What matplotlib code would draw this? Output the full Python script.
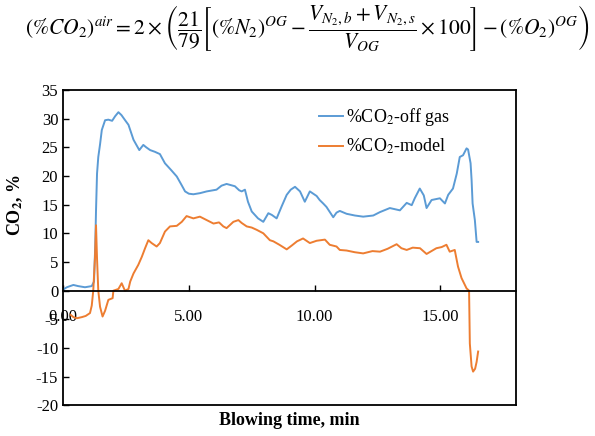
import matplotlib
matplotlib.use("Agg")
import matplotlib.pyplot as plt

# blowing time (min) and %CO2
offgas_t = [0.0, 0.15, 0.41, 0.6, 0.87, 1.14, 1.23, 1.28, 1.31, 1.35, 1.4, 1.47, 1.54, 1.67, 1.8,
            1.95, 2.07, 2.2, 2.32, 2.45, 2.6, 2.8, 3.03, 3.19, 3.3, 3.46, 3.65, 3.85, 4.05, 4.3,
            4.52, 4.7, 4.85, 5.0, 5.18, 5.45, 5.71, 6.1, 6.3, 6.5, 6.83, 7.0, 7.1, 7.23, 7.35,
            7.5, 7.75, 7.96, 8.16, 8.3, 8.49, 8.7, 8.89, 9.05, 9.22, 9.42, 9.61, 9.81, 10.08,
            10.2, 10.34, 10.47, 10.74, 10.87, 11.0, 11.27, 11.6, 11.93, 12.33, 12.6, 12.99,
            13.39, 13.66, 13.86, 13.98, 14.18, 14.34, 14.45, 14.65, 14.98, 15.18, 15.31, 15.5,
            15.65, 15.77, 15.9, 16.04, 16.1, 16.2, 16.24, 16.28, 16.37, 16.44, 16.5]
offgas_co2 = [0.2, 0.6, 1.0, 0.8, 0.6, 0.8, 1.6, 8.0, 14.0, 20.4, 23.3, 25.5, 28.0, 29.7, 29.8,
              29.6, 30.4, 31.1, 30.6, 29.8, 28.9, 26.3, 24.5, 25.4, 25.0, 24.5, 24.2, 23.8, 22.2,
              21.0, 19.9, 18.5, 17.3, 16.9, 16.8, 17.0, 17.3, 17.6, 18.3, 18.6, 18.2, 17.5, 17.3,
              17.6, 15.5, 13.8, 12.6, 12.0, 13.5, 13.2, 12.6, 14.8, 16.7, 17.6, 18.1, 17.3, 15.5,
              17.3, 16.5, 15.8, 15.2, 14.6, 12.8, 13.6, 13.9, 13.4, 13.1, 12.9, 13.1, 13.7, 14.4,
              14.0, 15.3, 14.9, 16.1, 17.8, 16.6, 14.4, 15.8, 16.1, 15.2, 16.7, 17.8, 20.4, 23.3,
              23.6, 24.8, 24.6, 22.2, 19.3, 15.2, 12.3, 8.5, 8.5]

model_t = [0.3, 0.41, 0.55, 0.75, 0.9, 1.07, 1.14, 1.2, 1.27, 1.31, 1.35, 1.4, 1.47, 1.57, 1.67,
           1.8, 1.97, 2.0, 2.2, 2.33, 2.46, 2.6, 2.67, 2.8, 2.99, 3.13, 3.26, 3.39, 3.52, 3.72,
           3.85, 4.05, 4.25, 4.52, 4.72, 4.91, 5.18, 5.44, 5.71, 5.98, 6.2, 6.37, 6.5, 6.77,
           6.97, 7.1, 7.3, 7.5, 7.7, 7.96, 8.22, 8.36, 8.6, 8.89, 9.1, 9.3, 9.54, 9.81, 10.08,
           10.41, 10.6, 10.87, 11.0, 11.27, 11.6, 11.93, 12.3, 12.6, 12.9, 13.26, 13.45, 13.66,
           13.9, 14.19, 14.45, 14.84, 15.05, 15.24, 15.37, 15.57, 15.7, 15.84, 16.04, 16.14,
           16.17, 16.24, 16.3, 16.38, 16.44, 16.5]
model_co2 = [-4.2, -4.6, -4.8, -4.6, -4.4, -3.9, -2.6, 0.0, 5.9, 11.4, 5.6, 0.0, -2.8, -4.5, -3.5,
             -1.6, -1.3, 0.0, 0.3, 1.3, 0.0, 0.3, 1.6, 3.0, 4.5, 5.9, 7.4, 8.8, 8.3, 7.7,
             8.3, 10.3, 11.2, 11.3, 12.0, 13.0, 12.6, 12.9, 12.3, 11.7, 11.9, 11.2, 10.9, 12.0,
             12.3, 11.8, 11.2, 11.0, 10.6, 10.0, 8.8, 8.6, 8.0, 7.2, 7.9, 8.6, 9.1, 8.3, 8.7,
             8.9, 8.0, 7.7, 7.1, 7.0, 6.7, 6.5, 6.9, 6.8, 7.3, 8.1, 7.4, 7.1,
             7.5, 7.4, 6.4, 7.4, 7.6, 8.0, 6.8, 7.1, 4.2, 2.2, 0.4, 0.0,
             -9.2, -13.2, -14.1, -13.6, -12.4, -10.6]

x_ticks = [0, 5, 10, 15]
x_ticklabels = ["0.00", "5.00", "10.00", "15.00"]
y_ticks = list(range(-20, 40, 5))

blue = '#5B9BD5'
orange = '#ED7D31'

plt.rcParams['font.family'] = 'Liberation Serif'
plt.rcParams['mathtext.fontset'] = 'stix'
plt.rcParams['axes.unicode_minus'] = False

fig = plt.figure(figsize=(5.95, 4.36), dpi=100)
ax = fig.add_axes([0.106, 0.070, 0.761, 0.724])

ax.plot(offgas_t, offgas_co2, color=blue, lw=1.4, label='%CO$_2$-off gas')
ax.plot(model_t, model_co2, color=orange, lw=1.4, label='%CO$_2$-model')

ax.set_xlim(0, 18)
ax.set_ylim(-20, 35)
ax.set_xticks(x_ticks)
ax.set_xticklabels(x_ticklabels)
ax.set_yticks(y_ticks)

# x axis crosses at zero, keep a frame line at the bottom
ax.spines['bottom'].set_position(('data', 0))
ax.plot([0, 1], [0, 0], transform=ax.transAxes, color='black', lw=1.3, clip_on=False)
for s in ax.spines.values():
    s.set_linewidth(1.3)

ax.tick_params(axis='both', direction='in', length=4, width=1.0, labelsize=12)
ax.tick_params(axis='x', pad=13)

ax.set_xlabel('Blowing time, min', fontsize=13, fontweight='bold')
ax.xaxis.set_label_coords(0.5, -0.02)
fig.text(0.025, 0.53, 'CO$_\\mathbf{2}$, %', rotation=90, fontsize=13, fontweight='bold',
         ha='center', va='center')

ax.legend(loc='upper left', frameon=False, fontsize=13, handlelength=1.3, handletextpad=0.2,
          labelspacing=0.5, bbox_to_anchor=(0.53, 1.0))

eq = (r'$(\%CO_2)^{air} = 2\times\left(\dfrac{21}{79}\left[(\%N_2)^{OG} - '
      r'\dfrac{V_{N_2,b}+V_{N_2,s}}{V_{OG}}\times 100\right] - (\%O_2)^{OG}\right)$')
fig.text(0.517, 0.936, eq, fontsize=15.5, ha='center', va='center')

fig.savefig('out.png', dpi=100)
